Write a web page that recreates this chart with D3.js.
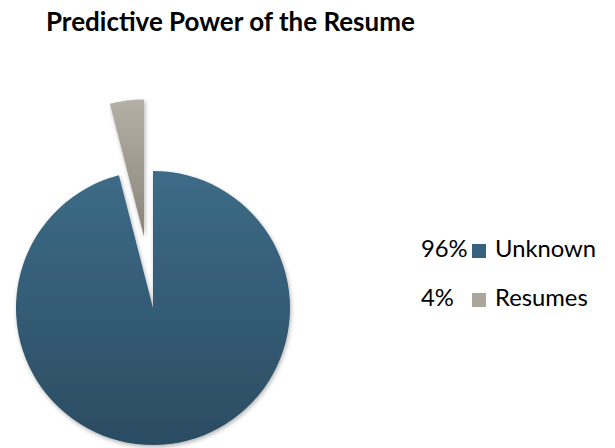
<!DOCTYPE html>
<html>
<head>
<meta charset="utf-8">
<script src="https://cdn.jsdelivr.net/npm/d3@7"></script>
<style>
  body { margin: 0; background: #fff; }
  svg { display: block; }
  text { font-family: Lato, "Liberation Sans", sans-serif; fill: #000; }
</style>
</head>
<body>
<div id="chart"></div>
<script>
var title = "Predictive Power of the Resume";
var categories = ["Unknown", "Resumes"];
var values = [96, 4];
var percentLabels = ["96%", "4%"];
var topColors = ["#3d6b87", "#b5b0a6"];
var bottomColors = ["#2b4c62", "#8a8478"];
var legendColors = ["#36627d", "#aba69b"];

var width = 615, height = 448;
var cx = 153, cy = 308, radius = 137;
var explode = 72;

var svg = d3.select("#chart")
  .append("svg")
  .attr("width", width)
  .attr("height", height);

var defs = svg.append("defs");

var shadow = defs.append("filter")
  .attr("id", "shadow")
  .attr("x", "-20%").attr("y", "-20%")
  .attr("width", "140%").attr("height", "140%");
shadow.append("feDropShadow")
  .attr("dx", 1).attr("dy", 2)
  .attr("stdDeviation", 2)
  .attr("flood-color", "#000")
  .attr("flood-opacity", 0.3);

categories.forEach(function(c, i) {
  var g = defs.append("linearGradient")
    .attr("id", "grad" + i)
    .attr("x1", 0).attr("y1", 0)
    .attr("x2", 0).attr("y2", 1);
  g.append("stop").attr("offset", "0%").attr("stop-color", topColors[i]);
  g.append("stop").attr("offset", "100%").attr("stop-color", bottomColors[i]);
});

var data = categories.map(function(c, i) {
  return { name: c, value: values[i], label: percentLabels[i], index: i };
});

var pie = d3.pie()
  .sort(null)
  .value(function(d) { return d.value; });

var arc = d3.arc()
  .innerRadius(0)
  .outerRadius(radius);

var pieGroup = svg.append("g")
  .attr("transform", "translate(" + cx + "," + cy + ")");

pieGroup.selectAll(".slice")
  .data(pie(data))
  .enter()
  .append("path")
  .attr("class", "slice")
  .attr("d", arc)
  .attr("fill", function(d) { return "url(#grad" + d.data.index + ")"; })
  .attr("filter", "url(#shadow)")
  .attr("transform", function(d) {
    // pull the small slice out of the pie
    if (d.data.name !== "Resumes") return null;
    var mid = (d.startAngle + d.endAngle) / 2;
    return "translate(" + (Math.sin(mid) * explode) + "," + (-Math.cos(mid) * explode) + ")";
  });

// title
var titleText = svg.append("text")
  .attr("x", 46)
  .attr("y", 31)
  .style("font-weight", "bold")
  .style("font-size", "23px")
  .text(title);
var tw = titleText.node().getComputedTextLength();
titleText.style("font-size", (23 * 369 / tw) + "px");

// legend
var legend = svg.selectAll(".legend")
  .data(data)
  .enter()
  .append("g")
  .attr("class", "legend")
  .attr("transform", function(d, i) { return "translate(421," + (257 + i * 49) + ")"; });

legend.append("text")
  .attr("x", 0)
  .attr("y", 0)
  .style("font-size", "23.8px")
  .text(function(d) { return d.label; });

legend.append("rect")
  .attr("x", 51)
  .attr("y", -13)
  .attr("width", 14)
  .attr("height", 14)
  .attr("fill", function(d) { return legendColors[d.index]; });

legend.append("text")
  .attr("x", 74)
  .attr("y", 0)
  .style("font-size", "23.8px")
  .text(function(d) { return d.name; });
</script>
</body>
</html>
